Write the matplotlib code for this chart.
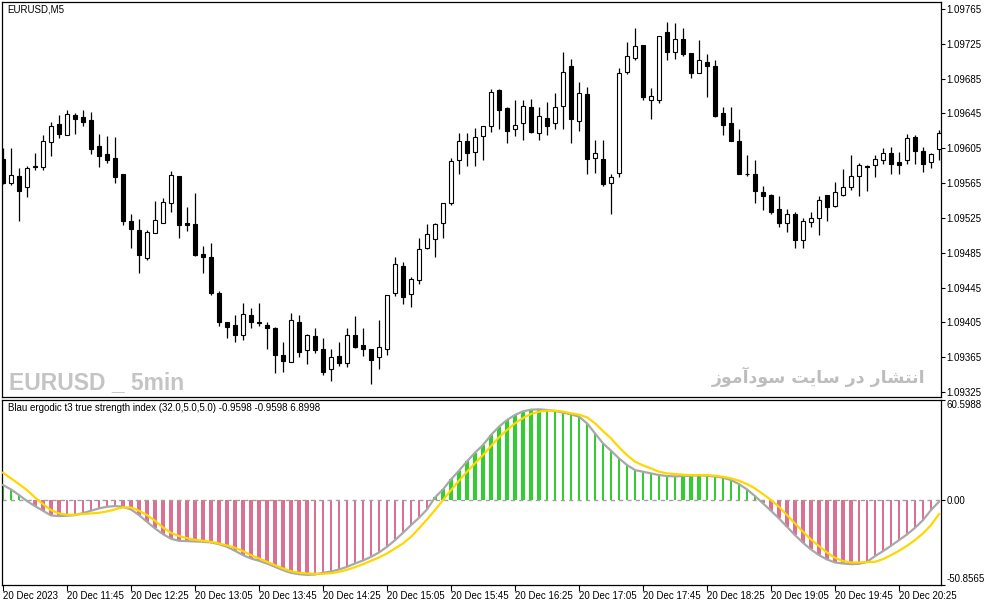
import numpy as np
import matplotlib
matplotlib.use('Agg')
import matplotlib.pyplot as plt

plt.rcParams['font.family'] = ['Liberation Sans', 'DejaVu Sans']
plt.rcParams['font.size'] = 7

# EURUSD M5 candles, 20 Dec 2023 from 11:05
opens = [1.09593, 1.09565, 1.09573, 1.09560, 1.09585, 1.09583, 1.09612, 1.09633, 1.09620, 1.09643,
         1.09641, 1.09638, 1.09608, 1.09598, 1.09594, 1.09575, 1.09522, 1.09511, 1.09479, 1.09508,
         1.09519, 1.09542, 1.09573, 1.09519, 1.09518, 1.09484, 1.09480, 1.09439, 1.09406, 1.09402,
         1.09391, 1.09414, 1.09406, 1.09402, 1.09398, 1.09367, 1.09360, 1.09406, 1.09373, 1.09389,
         1.09375, 1.09351, 1.09366, 1.09358, 1.09391, 1.09379, 1.09375, 1.09365, 1.09375, 1.09439,
         1.09470, 1.09438, 1.09454, 1.09490, 1.09501, 1.09519, 1.09542, 1.09591, 1.09613, 1.09601,
         1.09619, 1.09630, 1.09672, 1.09651, 1.09627, 1.09634, 1.09652, 1.09623, 1.09640, 1.09634,
         1.09654, 1.09699, 1.09636, 1.09667, 1.09594, 1.09593, 1.09565, 1.09577, 1.09693, 1.09709,
         1.09724, 1.09661, 1.09661, 1.09738, 1.09715, 1.09731, 1.09714, 1.09692, 1.09704, 1.09699,
         1.09646, 1.09634, 1.09613, 1.09576, 1.09576, 1.09555, 1.09551, 1.09535, 1.09519, 1.09529,
         1.09500, 1.09520, 1.09525, 1.09551, 1.09539, 1.09551, 1.09560, 1.09573, 1.09585, 1.09586,
         1.09592, 1.09600, 1.09589, 1.09592, 1.09618, 1.09602, 1.09589, 1.09604]
highs = [1.09605, 1.09605, 1.09582, 1.09585, 1.09600, 1.09620, 1.09635, 1.09643, 1.09649, 1.09646,
         1.09649, 1.09647, 1.09621, 1.09619, 1.09618, 1.09575, 1.09529, 1.09524, 1.09511, 1.09545,
         1.09548, 1.09579, 1.09573, 1.09537, 1.09554, 1.09493, 1.09496, 1.09441, 1.09406, 1.09413,
         1.09427, 1.09422, 1.09427, 1.09406, 1.09400, 1.09383, 1.09416, 1.09413, 1.09392, 1.09398,
         1.09387, 1.09374, 1.09382, 1.09398, 1.09412, 1.09398, 1.09375, 1.09408, 1.09437, 1.09480,
         1.09474, 1.09457, 1.09502, 1.09518, 1.09519, 1.09542, 1.09594, 1.09622, 1.09622, 1.09628,
         1.09631, 1.09673, 1.09673, 1.09652, 1.09660, 1.09660, 1.09662, 1.09652, 1.09658, 1.09668,
         1.09715, 1.09707, 1.09681, 1.09675, 1.09614, 1.09614, 1.09575, 1.09697, 1.09727, 1.09743,
         1.09724, 1.09674, 1.09734, 1.09750, 1.09749, 1.09743, 1.09714, 1.09729, 1.09713, 1.09706,
         1.09652, 1.09652, 1.09627, 1.09597, 1.09591, 1.09562, 1.09553, 1.09550, 1.09535, 1.09532,
         1.09525, 1.09532, 1.09550, 1.09551, 1.09566, 1.09581, 1.09597, 1.09588, 1.09586, 1.09597,
         1.09605, 1.09607, 1.09601, 1.09621, 1.09620, 1.09606, 1.09600, 1.09626]
lows = [1.09564, 1.09563, 1.09522, 1.09549, 1.09580, 1.09580, 1.09596, 1.09617, 1.09620, 1.09621,
        1.09630, 1.09598, 1.09584, 1.09588, 1.09565, 1.09517, 1.09490, 1.09462, 1.09477, 1.09508,
        1.09519, 1.09532, 1.09502, 1.09510, 1.09481, 1.09462, 1.09437, 1.09401, 1.09387, 1.09383,
        1.09385, 1.09399, 1.09401, 1.09374, 1.09347, 1.09348, 1.09360, 1.09365, 1.09357, 1.09370,
        1.09345, 1.09338, 1.09355, 1.09354, 1.09376, 1.09366, 1.09334, 1.09352, 1.09367, 1.09435,
        1.09426, 1.09423, 1.09449, 1.09489, 1.09480, 1.09502, 1.09540, 1.09575, 1.09585, 1.09585,
        1.09591, 1.09624, 1.09627, 1.09611, 1.09619, 1.09615, 1.09622, 1.09615, 1.09620, 1.09627,
        1.09627, 1.09611, 1.09625, 1.09575, 1.09577, 1.09562, 1.09529, 1.09572, 1.09690, 1.09706,
        1.09661, 1.09639, 1.09657, 1.09706, 1.09708, 1.09711, 1.09686, 1.09691, 1.09664, 1.09641,
        1.09620, 1.09613, 1.09575, 1.09573, 1.09542, 1.09534, 1.09530, 1.09515, 1.09509, 1.09490,
        1.09490, 1.09515, 1.09505, 1.09521, 1.09538, 1.09550, 1.09557, 1.09550, 1.09556, 1.09572,
        1.09587, 1.09576, 1.09576, 1.09587, 1.09587, 1.09578, 1.09582, 1.09591]
closes = [1.09565, 1.09574, 1.09556, 1.09582, 1.09583, 1.09613, 1.09631, 1.09621, 1.09644, 1.09639,
          1.09635, 1.09604, 1.09596, 1.09591, 1.09572, 1.09522, 1.09512, 1.09482, 1.09509, 1.09523,
          1.09543, 1.09574, 1.09517, 1.09517, 1.09482, 1.09480, 1.09439, 1.09405, 1.09400, 1.09391,
          1.09415, 1.09406, 1.09404, 1.09398, 1.09368, 1.09361, 1.09408, 1.09371, 1.09390, 1.09373,
          1.09348, 1.09365, 1.09358, 1.09391, 1.09377, 1.09375, 1.09362, 1.09377, 1.09436, 1.09472,
          1.09434, 1.09455, 1.09489, 1.09506, 1.09518, 1.09542, 1.09590, 1.09613, 1.09599, 1.09618,
          1.09630, 1.09670, 1.09649, 1.09625, 1.09632, 1.09654, 1.09624, 1.09642, 1.09630, 1.09652,
          1.09693, 1.09639, 1.09668, 1.09593, 1.09599, 1.09564, 1.09572, 1.09692, 1.09711, 1.09723,
          1.09664, 1.09665, 1.09734, 1.09715, 1.09731, 1.09713, 1.09692, 1.09706, 1.09700, 1.09642,
          1.09632, 1.09613, 1.09575, 1.09575, 1.09556, 1.09550, 1.09532, 1.09519, 1.09530, 1.09500,
          1.09521, 1.09525, 1.09546, 1.09538, 1.09555, 1.09561, 1.09573, 1.09586, 1.09584, 1.09593,
          1.09599, 1.09587, 1.09586, 1.09617, 1.09602, 1.09587, 1.09598, 1.09623]

# Blau ergodic t3 TSI (gray) and signal (yellow)
tsi = [9.05, 6.43, 3.02, -0.60, -3.62, -6.43, -9.25, -9.65, -9.45, -9.05,
       -7.84, -6.43, -5.03, -4.02, -3.62, -4.02, -5.63, -9.05, -13.07, -17.09,
       -20.51, -23.32, -24.53, -24.73, -24.93, -25.13, -25.53, -26.54, -28.15, -30.56,
       -33.17, -35.18, -36.59, -38.20, -40.21, -42.22, -43.83, -44.63, -45.04, -44.83,
       -43.83, -43.02, -41.82, -40.21, -38.20, -36.39, -34.18, -31.56, -28.15, -24.13,
       -19.70, -15.08, -10.66, -5.63, 1.61, 6.43, 12.47, 17.69, 23.32, 28.55,
       33.17, 39.20, 44.23, 48.25, 51.27, 53.48, 54.48, 54.69, 54.28, 53.68,
       52.68, 51.67, 50.26, 46.24, 40.21, 34.18, 29.76, 25.13, 21.11, 18.09,
       17.09, 16.08, 15.08, 14.48, 14.27, 14.48, 14.68, 14.88, 14.68, 14.27,
       13.47, 12.06, 9.65, 6.43, 2.41, -2.01, -6.43, -11.06, -16.08, -21.11,
       -25.73, -29.76, -33.17, -35.79, -37.60, -38.20, -38.60, -38.40, -37.19, -33.78,
       -30.76, -27.54, -24.13, -20.71, -16.69, -12.06, -6.03, -0.96]
signal = [16.49, 13.07, 9.65, 6.03, 1.61, -2.41, -6.03, -8.04, -8.85, -8.85,
          -8.44, -8.04, -7.64, -6.84, -5.63, -4.42, -4.42, -6.43, -9.05, -12.47,
          -16.49, -19.70, -21.71, -22.92, -23.93, -24.53, -25.13, -26.14, -27.34, -28.75,
          -30.76, -33.17, -35.18, -37.19, -39.20, -41.22, -42.82, -43.83, -44.23, -44.43,
          -44.43, -44.03, -43.23, -42.02, -40.41, -38.60, -36.59, -34.58, -32.17, -29.15,
          -26.14, -22.12, -17.09, -11.66, -6.03, 0.0, 6.03, 11.66, 17.09, 22.12,
          27.14, 32.57, 37.80, 42.22, 46.24, 49.46, 51.87, 53.28, 53.88, 53.88,
          53.28, 52.27, 51.47, 49.86, 46.24, 41.62, 37.19, 31.77, 27.14, 23.12,
          20.90, 19.10, 17.09, 16.08, 15.68, 15.28, 15.08, 15.08, 15.08, 14.68,
          14.07, 13.07, 11.66, 9.65, 7.04, 3.62, 0.0, -4.02, -9.05, -14.07,
          -19.10, -23.72, -27.74, -31.56, -34.78, -36.79, -37.60, -37.60, -37.40, -37.19,
          -35.59, -33.17, -30.56, -27.54, -24.13, -20.11, -15.08, -8.44]

time_labels = ['20 Dec 2023', '20 Dec 11:45', '20 Dec 12:25', '20 Dec 13:05', '20 Dec 13:45',
               '20 Dec 14:25', '20 Dec 15:05', '20 Dec 15:45', '20 Dec 16:25', '20 Dec 17:05',
               '20 Dec 17:45', '20 Dec 18:25', '20 Dec 19:05', '20 Dec 19:45', '20 Dec 20:25']
price_ticks = [1.09325, 1.09365, 1.09405, 1.09445, 1.09485, 1.09525,
               1.09565, 1.09605, 1.09645, 1.09685, 1.09725, 1.09765]
ind_ticks = [-50.8565, 0.0, 60.5988]
ind_labels = ['-50.8565', '0.00', '60.5988']

o = np.array(opens); h = np.array(highs); l = np.array(lows); c = np.array(closes)
x = np.arange(len(o))
W, H = 987, 605

fig = plt.figure(figsize=(W / 100, H / 100), dpi=100)
ax = fig.add_axes([2 / W, 1 - 397 / H, 939 / W, 395 / H])
ax2 = fig.add_axes([2 / W, 1 - 584.5 / H, 939 / W, 185 / H])

# candles
ax.vlines(x, l, h, color='black', lw=0.9, zorder=2)
up = c >= o
body_lo = np.minimum(o, c)
body_h = np.maximum(np.abs(c - o), 0.000004)
ax.bar(x, body_h, bottom=body_lo, width=0.56,
       color=np.where(up, 'white', 'black'), edgecolor='black', linewidth=0.8, zorder=3)

ax.set_xlim(-0.125, 117.25)
ax.set_ylim(1.093193, 1.097730)
ax.yaxis.tick_right()
ax.set_yticks(price_ticks)
ax.set_yticklabels(['%.5f' % t for t in price_ticks])
ax.set_xticks([])
ax.tick_params(axis='y', direction='out', length=3, width=0.8, pad=1, labelsize=7)
ax.text(5 / 939, 1 - 8 / 395, 'EURUSD,M5', transform=ax.transAxes, va='center', ha='left', fontsize=7)
ax.text(7 / 939, 8 / 395, 'EURUSD _ 5min', transform=ax.transAxes, ha='left', va='baseline',
        fontsize=16.5, fontweight='bold', color='#c4c4c4', family=['Liberation Sans'])

# Persian watermark, shaped glyphs in visual order
fa = ('\uFE8D\uFEE7\uFE98\uFEB8\uFE8E\uFEAD' + ' ' + '\uFEA9\uFEAD' + ' ' +
      '\uFEB3\uFE8E\uFEF3\uFE96' + ' ' + '\uFEB3\uFEEE\uFEA9\uFE81\uFEE3\uFEEE\uFEAF')
ax.text(923 / 939, 14 / 395, fa[::-1], transform=ax.transAxes, ha='right', va='baseline',
        fontsize=12.5, fontweight='bold', color='#bdbdbd', family=['DejaVu Sans'])

# indicator
tsi_a = np.array(tsi)
prev = np.concatenate([[tsi_a[0]], tsi_a[:-1]])
strong = ((tsi_a > 0) & (tsi_a > prev)) | ((tsi_a < 0) & (tsi_a < prev))
bar_w = np.where(strong, 0.6, 0.14)
bar_c = np.where(tsi_a >= 0, '#32cd32', '#db7093')
ax2.bar(x, tsi_a, width=bar_w, color=bar_c, linewidth=0, zorder=1)
ax2.axhline(0, color='#a0a0a0', lw=1, ls=(0, (3, 3)), zorder=2)
ax2.plot(x, tsi, color='#a8a8a8', lw=1.6, zorder=3)
ax2.plot(x, signal, color='#ffd700', lw=1.6, zorder=4)

ax2.set_xlim(-0.125, 117.25)
ax2.set_ylim(-50.8565, 60.5988)
ax2.yaxis.tick_right()
ax2.set_yticks(ind_ticks)
ax2.set_yticklabels(ind_labels)
lab = ax2.get_yticklabels()
lab[0].set_va('bottom')
lab[2].set_va('top')
ax2.set_xticks(np.arange(0, 113, 8))
ax2.set_xticklabels(time_labels, ha='left')
ax2.tick_params(axis='y', direction='out', length=3, width=0.8, pad=1, labelsize=7)
ax2.tick_params(axis='x', direction='out', length=4, width=0.8, pad=1, labelsize=7)
ax2.text(6 / 939, 1 - 8.5 / 185, 'Blau ergodic t3 true strength index (32.0,5.0,5.0) -0.9598 -0.9598 6.8998',
         transform=ax2.transAxes, ha='left', va='center', fontsize=7)

for a in (ax, ax2):
    for s in a.spines.values():
        s.set_linewidth(0.9)
        s.set_color('black')

fig.savefig('out.png', dpi=100)
plt.close(fig)
